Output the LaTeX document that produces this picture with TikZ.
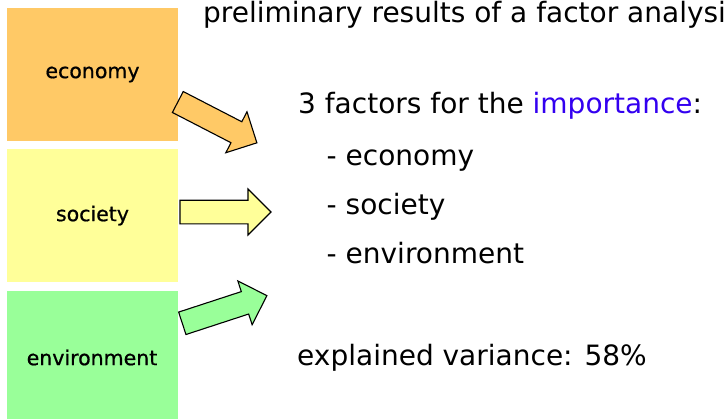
\documentclass[tikz,border=0pt]{standalone}
\usepackage{fontspec}
\setmainfont{DejaVu Sans}
\newfontfamily\labelfont{DejaVu Sans}[FakeBold=0.8]
\usetikzlibrary{shapes.arrows}
\definecolor{econ}{HTML}{FFC966}
\definecolor{soc}{HTML}{FFFF99}
\definecolor{env}{HTML}{99FF99}
\definecolor{imp}{RGB}{51,0,240}

\begin{document}
\begin{tikzpicture}[x=1pt,y=-1pt]
\tikzstyle{box}=[minimum width=171pt,minimum height=133pt,inner sep=0pt,font=\labelfont\fontsize{20.5}{24}\selectfont];
\tikzstyle{bigarrow}=[draw=black,line width=1.1pt,single arrow,single arrow head extend=11.25pt,inner xsep=0pt,inner ysep=11.25pt,outer sep=0pt,minimum height=89pt,anchor=tail];
\tikzstyle{txt}=[anchor=base west,inner sep=0pt,font=\fontsize{28}{33}\selectfont];
\useasboundingbox (0,0) rectangle (725,418);

% the three factors
\node [box,fill=econ] (economy) at (92.5,74.5) {economy};
\node [box,fill=soc] (society) at (92.5,215.5) {society};
\node [box,fill=env] (environment) at (92,357.5) {environment};

% block arrows
\node [bigarrow,fill=econ,rotate=-27.3] (econarrow) at (177.8,102) {};
\node [bigarrow,fill=soc,minimum height=91pt] (socarrow) at (180,212) {};
\node [bigarrow,fill=env,rotate=18.1] (envarrow) at (182.3,323.3) {};

% text
\node [txt] (title) at (203,22) {preliminary results of a factor analysis};
\node [txt] (factors) at (298,113) {3 factors for the \textcolor{imp}{importance}:};
\node [txt] (item1) at (326.5,165) {- economy};
\node [txt] (item2) at (326.5,214) {- society};
\node [txt] (item3) at (326.5,263) {- environment};
\node [txt] (variance) at (297,365) {explained variance: 58\%};
\end{tikzpicture}
\end{document}
